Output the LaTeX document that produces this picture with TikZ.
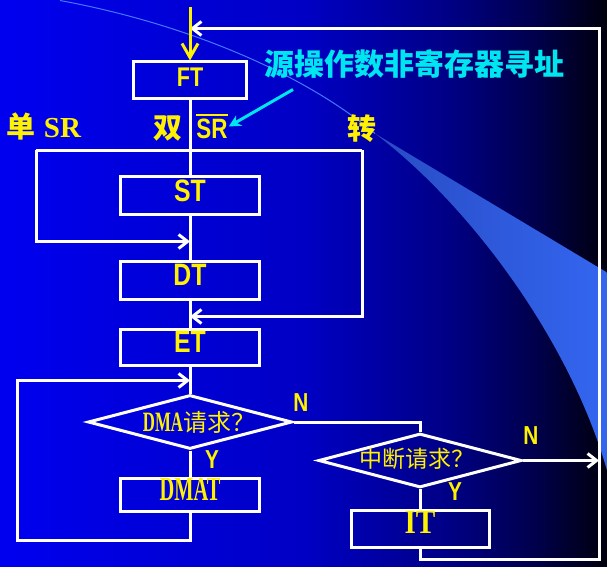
\documentclass[tikz,border=0pt]{standalone}
\usepackage{fontspec}
\setmainfont{Liberation Sans}
\newfontfamily\narrowsans[FakeStretch=0.8]{Liberation Sans}
\newfontfamily\narrowserif[FakeStretch=0.6]{Liberation Serif}
\newfontfamily\serifn[FakeStretch=0.86]{Liberation Serif}
\newfontfamily\serifb{Liberation Serif}
\newfontfamily\cjk{Noto Sans CJK SC}
\usetikzlibrary{shapes.geometric,arrows.meta}
\pgfdeclarehorizontalshading{slidebg}{100bp}{rgb(0bp)=(0,0,0.94); rgb(25bp)=(0,0,0.94); rgb(50bp)=(0,0,0.77); rgb(62bp)=(0,0,0.52); rgb(69bp)=(0,0,0.3); rgb(75bp)=(0,0,0.05); rgb(100bp)=(0,0,0.05)}
\definecolor{swoopdark}{RGB}{40,75,195}
\definecolor{swooplight}{RGB}{51,102,240}
\definecolor{arcline}{RGB}{70,120,255}
\definecolor{note}{RGB}{0,230,240}
\newcommand{\setfs}[1]{\fontsize{#1}{#1}\selectfont}

\begin{document}
\begin{tikzpicture}[x=1pt, y=-1pt,
    every node/.style={text=yellow, inner sep=1pt},
    box/.style={draw=white, line width=3pt, minimum width=139pt, minimum height=38pt,
      inner sep=0pt, text depth=11pt, font=\narrowsans\bfseries\setfs{31}},
    dec/.style={draw=white, line width=3pt, diamond, aspect=3.7, inner sep=0pt,
      minimum width=204pt, minimum height=54pt},
    link/.style={draw=white, line width=3pt},
    arr/.style={link, -{Straight Barb[length=9pt, width=14pt]}},
    yarr/.style={draw=yellow, line width=3pt, -{Straight Barb[length=14pt, width=16pt]}},
    tag/.style={font=\narrowsans\bfseries\setfs{26}},
  ]
  % slide background
  \shade[shading=slidebg] (0,0) rectangle (607,566);
  \shade[left color=swoopdark, right color=swooplight]
    (375,133) -- (607,272) -- (607,470) .. controls (570,340) and (470,205) .. (375,133);
  \draw[arcline, line width=1pt] (60,0) .. controls (180,22) and (300,70) .. (375,133);

  % steps
  \node[box, minimum width=113pt, minimum height=37pt, text depth=6pt,
    font=\narrowsans\bfseries\setfs{27}] (FT) at (190,80) {FT};
  \node[box] (ST) at (190,195.5) {ST};
  \node[box] (DT) at (190,279.5) {DT};
  \node[box, minimum height=36pt] (ET) at (190,346.5) {ET};
  \node[dec] (DMA) at (190,421.5) {};
  \node (dmaq) at (199,421.5) {{\narrowserif\bfseries\setfs{28}DMA}{\cjk\setfs{24}请求？}};
  \node[box, minimum height=33pt, font=\narrowserif\bfseries\setfs{34}] (DMAT) at (190,494.5) {DMAT};
  \node[dec, minimum width=203pt] (INT) at (420,460) {};
  \node (intq) at (417,458) {\cjk\setfs{23}中断请求？};
  \node[box, minimum width=138pt, minimum height=37pt, text depth=12pt,
    font=\serifn\bfseries\setfs{34}] (IT) at (420,528) {IT};

  % branch labels
  \node[font=\bfseries\setfs{29}] (single) at (44,126) {{\cjk 单} {\serifb SR}};
  \node[font=\cjk\bfseries\setfs{29}] (dual) at (168,128) {双};
  \node[font=\narrowsans\bfseries\setfs{28}] (srbar) at (212,126)
    {\vbox{\hrule height 2pt\kern 3pt\hbox{SR}}};
  \node[font=\cjk\bfseries\setfs{29}] (turn) at (362,128) {转};
  \node[tag] (nA) at (301,402) {N};
  \node[tag] (yA) at (212,459) {Y};
  \node[tag] (nB) at (531,435) {N};
  \node[tag] (yB) at (455,491) {Y};
  \node[text=note, font=\cjk\bfseries\setfs{30}] (note) at (414,64) {源操作数非寄存器寻址};

  % junctions
  \coordinate (bl) at (36,150);
  \coordinate (br) at (362,150);
  \coordinate (jST) at (190,241);
  \coordinate (jDT) at (190,316);
  \coordinate (jET) at (190,380);
  \coordinate (lp) at (17,540);
  \coordinate (jR) at (599,460);
  \coordinate (rb) at (599,559);
  \coordinate (jFT) at (190,28);
  \coordinate (start) at (190,7);
  \coordinate (notefoot) at (293,89);

  % flow lines
  \draw[link] (FT) -- (ST);
  \draw[link] (bl) -- (br);
  \draw[arr] (bl) |- (jST);
  \draw[arr] (br) |- (jDT);
  \foreach \a/\b in {ST/DT, DT/ET, ET/DMA, DMA/DMAT, INT/IT}
    \draw[link] (\a) -- (\b);
  \draw[arr] (DMAT.south) |- (lp) |- (jET);
  \draw[link] (DMA.east) -| (INT.north);
  \draw[arr] (INT.east) -- (jR);
  \draw[arr] (IT.south) |- (rb) |- (jFT);
  \draw[yarr] (start) -- (FT);
  \draw[note, line width=3pt, -{Stealth[length=12pt, width=12pt]}] (notefoot) -- (srbar.east);
\end{tikzpicture}
\end{document}
